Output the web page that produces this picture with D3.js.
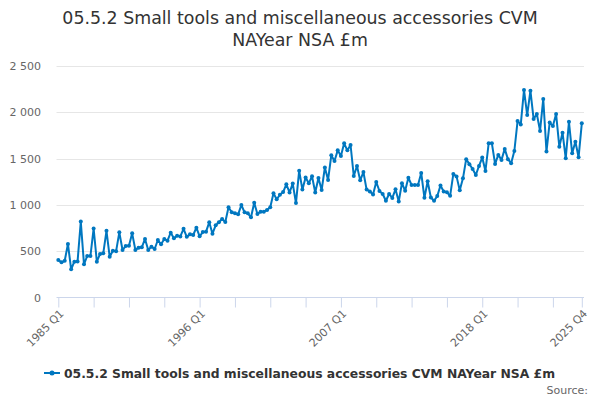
<!DOCTYPE html>
<html>
<head>
<meta charset="utf-8">
<title>05.5.2 Small tools and miscellaneous accessories</title>
<style>
  body { margin: 0; background: #fff; font-family: "DejaVu Sans", sans-serif; }
  svg text { font-family: "DejaVu Sans", sans-serif; }
</style>
<script src="https://cdnjs.cloudflare.com/ajax/libs/d3/7.8.5/d3.min.js"></script>
</head>
<body>
<div id="chart"></div>
<script>
const titleLines = ["05.5.2 Small tools and miscellaneous accessories CVM", "NAYear NSA £m"];
const seriesName = "05.5.2 Small tools and miscellaneous accessories CVM NAYear NSA £m";

// quarters 1985 Q1 .. 2025 Q4
const quarters = [];
for (let y = 1985; y <= 2025; y++) for (let q = 1; q <= 4; q++) quarters.push(y + " Q" + q);

const labelledTicks = ["1985 Q1", "1996 Q1", "2007 Q1", "2018 Q1", "2025 Q4"];
const yTicks = [0, 500, 1000, 1500, 2000, 2500];

const values = [
  405, 380, 397, 578, 305, 387, 390, 820, 358, 448, 448, 745, 387, 470, 477, 720,
  440, 505, 500, 704, 513, 556, 560, 693, 513, 538, 542, 632, 513, 549, 524, 621,
  574, 632, 614, 700, 640, 666, 660, 742, 655, 682, 675, 754, 661, 707, 711, 812,
  689, 779, 812, 848, 815, 974, 920, 909, 898, 999, 920, 909, 866, 1024, 902, 927,
  927, 945, 974, 1125, 1060, 1110, 1139, 1222, 1135, 1230, 1020, 1370, 1165, 1295, 1233, 1310,
  1134, 1290, 1161, 1404, 1269, 1535, 1474, 1589, 1528, 1665, 1589, 1647, 1312, 1420, 1265, 1355,
  1165, 1145, 1113, 1247, 1150, 1118, 1045, 1118, 1075, 1168, 1037, 1235, 1152, 1294, 1215, 1215,
  1215, 1345, 1076, 1256, 1080, 1045, 1095, 1210, 1145, 1136, 1098, 1334, 1308, 1157, 1287, 1494,
  1440, 1388, 1323, 1421, 1511, 1366, 1665, 1665, 1443, 1540, 1486, 1605, 1494, 1450, 1582, 1905,
  1869, 2241, 1970, 2233, 1927, 1981, 1799, 2144, 1576, 1891, 1851, 1981, 1629, 1780, 1503, 1898,
  1557, 1683, 1514, 1881
];

const W = 600, H = 400;
const svg = d3.select("#chart").append("svg")
  .attr("width", W)
  .attr("height", H);

const x = d3.scalePoint()
  .domain(quarters)
  .range([58.3, 581.8]);

const y = d3.scaleLinear()
  .domain([0, 2500])
  .range([297.5, 66]);

const fmt = d3.formatLocale({ decimal: ".", thousands: " ", grouping: [3], currency: ["£", ""] }).format(",");

// title
svg.append("text")
  .attr("x", W / 2)
  .attr("y", 24)
  .attr("text-anchor", "middle")
  .attr("fill", "#333")
  .style("font-size", "17.4px")
  .selectAll("tspan")
  .data(titleLines)
  .enter()
  .append("tspan")
  .attr("x", W / 2)
  .attr("dy", (d, i) => i === 0 ? 0 : 22)
  .text(d => d);

// gridlines
svg.append("g")
  .selectAll("line")
  .data(yTicks.filter(d => d > 0))
  .enter()
  .append("line")
  .attr("x1", 56.5)
  .attr("x2", 584)
  .attr("y1", d => Math.round(y(d)) + 0.5)
  .attr("y2", d => Math.round(y(d)) + 0.5)
  .attr("stroke", "#e6e6e6");

// y axis labels
const yAxis = d3.axisLeft(y)
  .tickValues(yTicks)
  .tickFormat(fmt)
  .tickSize(0)
  .tickPadding(0);
const gy = svg.append("g")
  .attr("transform", "translate(41,0)")
  .call(yAxis);
gy.select(".domain").remove();
gy.selectAll("text")
  .attr("fill", "#666")
  .style("font-size", "11px");

// x axis
const tickIdx = [];
for (let i = 0; i < quarters.length; i += 11) tickIdx.push(quarters[i]);
tickIdx.push(quarters[quarters.length - 1]);

const xAxis = d3.axisBottom(x)
  .tickValues(tickIdx)
  .tickFormat(d => labelledTicks.includes(d) ? d : "")
  .tickSizeInner(10)
  .tickSizeOuter(0);
const gx = svg.append("g")
  .attr("transform", "translate(0,297.5)")
  .call(xAxis);
gx.select(".domain")
  .attr("d", "M56.5,0H584")
  .attr("stroke", "#ccd6eb");
gx.selectAll(".tick line").attr("stroke", "#ccd6eb");
gx.selectAll(".tick text")
  .attr("fill", "#666")
  .style("font-size", "11px")
  .attr("text-anchor", "end")
  .attr("dy", "0.35em")
  .attr("transform", "translate(3,14) rotate(-45)")
  .attr("y", 0)
  .attr("x", 0);

// line
const line = d3.line()
  .x((d, i) => x(quarters[i]))
  .y(d => y(d));

svg.append("path")
  .datum(values)
  .attr("d", line)
  .attr("fill", "none")
  .attr("stroke", "#0077c0")
  .attr("stroke-width", 2)
  .attr("stroke-linejoin", "round");

svg.append("g")
  .selectAll("circle")
  .data(values)
  .enter()
  .append("circle")
  .attr("cx", (d, i) => x(quarters[i]))
  .attr("cy", d => y(d))
  .attr("r", 2)
  .attr("fill", "#0077c0");

// legend
const lg = svg.append("g").attr("transform", "translate(44,373)");
lg.append("line")
  .attr("x1", 0).attr("x2", 16)
  .attr("y1", 0).attr("y2", 0)
  .attr("stroke", "#0077c0")
  .attr("stroke-width", 2);
lg.append("circle")
  .attr("cx", 8).attr("cy", 0).attr("r", 2.5)
  .attr("fill", "#0077c0");
lg.append("text")
  .attr("x", 20)
  .attr("y", 4.5)
  .attr("fill", "#333")
  .style("font-size", "12.35px")
  .style("font-weight", "bold")
  .text(seriesName);

// credits
svg.append("text")
  .attr("x", 588)
  .attr("y", 394)
  .attr("text-anchor", "end")
  .attr("fill", "#666")
  .style("font-size", "11px")
  .text("Source:");
</script>
</body>
</html>
